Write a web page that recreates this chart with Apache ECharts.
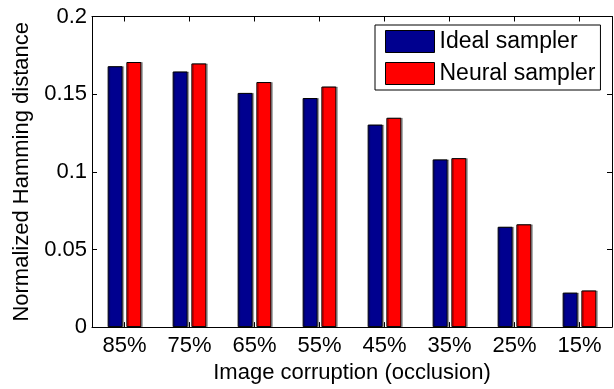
<!DOCTYPE html>
<html>
<head>
<meta charset="utf-8">
<script src="https://cdn.jsdelivr.net/npm/echarts@6/dist/echarts.min.js"></script>
<style>
  html, body { margin: 0; padding: 0; background: #fff; }
  #chart { width: 614px; height: 389px; }
</style>
</head>
<body>
<div id="chart"></div>
<script>
// Occlusion levels along the x axis
const categories = ['85%', '75%', '65%', '55%', '45%', '35%', '25%', '15%'];
// Normalized Hamming distance per sampler
const idealSampler = [0.168, 0.1646, 0.1508, 0.1475, 0.1304, 0.108, 0.0646, 0.0222];
const neuralSampler = [0.1707, 0.1698, 0.1578, 0.1549, 0.1348, 0.1088, 0.0662, 0.0236];
// Y axis range and tick step
const yMin = 0, yMax = 0.2, yStep = 0.05;

const FONT = '"Liberation Sans", Arial, Helvetica, sans-serif';

const chart = echarts.init(document.getElementById('chart'), null, { renderer: 'canvas' });

const frameLine = { show: true, onZero: false, lineStyle: { color: '#000', width: 1 } };
const innerTick = { show: true, inside: true, length: 5, lineStyle: { color: '#000', width: 1 } };

function barStyle(color) {
  return {
    color: color,
    borderColor: '#000',
    borderWidth: 1,
    shadowColor: 'rgba(0,0,0,0.28)',
    shadowOffsetX: 1.5,
    shadowOffsetY: 0,
    shadowBlur: 0
  };
}

chart.setOption({
  animation: false,
  backgroundColor: '#fff',
  textStyle: { fontFamily: FONT },
  grid: { left: 92, right: 2, top: 16.5, bottom: 57, containLabel: false },
  legend: {
    orient: 'vertical',
    left: 375,
    top: 25,
    padding: [5, 5, 5, 10],
    itemGap: 9,
    itemWidth: 49,
    itemHeight: 22,
    borderColor: '#000',
    borderWidth: 1,
    backgroundColor: '#fff',
    icon: 'rect',
    itemStyle: { shadowColor: 'transparent', borderColor: '#000', borderWidth: 1 },
    textStyle: { fontFamily: FONT, fontSize: 23, color: '#000', lineHeight: 22 },
    data: ['Ideal sampler', 'Neural sampler']
  },
  xAxis: [
    {
      type: 'category',
      data: categories,
      position: 'bottom',
      axisLine: frameLine,
      axisTick: Object.assign({ alignWithLabel: true }, innerTick),
      axisLabel: { color: '#000', fontSize: 22, margin: 8, fontFamily: FONT },
      name: 'Image corruption (occlusion)',
      nameLocation: 'middle',
      nameGap: 42,
      nameTextStyle: { color: '#000', fontSize: 22, fontFamily: FONT, verticalAlign: 'middle' },
      splitLine: { show: false }
    },
    {
      type: 'category',
      data: categories,
      position: 'top',
      axisLine: frameLine,
      axisTick: Object.assign({ alignWithLabel: true }, innerTick),
      axisLabel: { show: false },
      splitLine: { show: false }
    }
  ],
  yAxis: [
    {
      type: 'value',
      min: yMin,
      max: yMax,
      interval: yStep,
      position: 'left',
      axisLine: frameLine,
      axisTick: innerTick,
      axisLabel: { color: '#000', fontSize: 22, margin: 5, fontFamily: FONT },
      name: 'Normalized Hamming distance',
      nameLocation: 'middle',
      nameGap: 70,
      nameTextStyle: { color: '#000', fontSize: 22, fontFamily: FONT, verticalAlign: 'middle' },
      splitLine: { show: false }
    },
    {
      type: 'value',
      min: yMin,
      max: yMax,
      interval: yStep,
      position: 'right',
      axisLine: frameLine,
      axisTick: innerTick,
      axisLabel: { show: false },
      splitLine: { show: false }
    }
  ],
  series: [
    {
      name: 'Ideal sampler',
      type: 'bar',
      xAxisIndex: 0,
      yAxisIndex: 0,
      data: idealSampler,
      barWidth: 15,
      barGap: '25%',
      itemStyle: barStyle('#00008F')
    },
    {
      name: 'Neural sampler',
      type: 'bar',
      xAxisIndex: 0,
      yAxisIndex: 0,
      data: neuralSampler,
      barWidth: 15,
      barGap: '25%',
      itemStyle: barStyle('#FF0000')
    }
  ]
});
</script>
</body>
</html>
